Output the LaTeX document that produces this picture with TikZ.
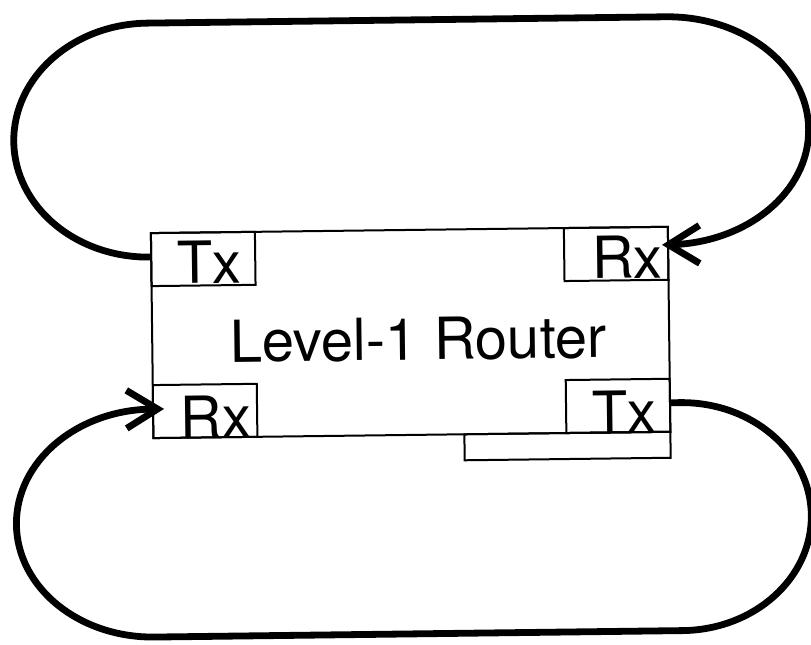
\documentclass[tikz,border=0pt]{standalone}
\usepackage{fontspec}
\setmainfont{TeX Gyre Heros}
\usetikzlibrary{arrows.meta}
\begin{document}
\begin{tikzpicture}[x=1pt,y=1pt,
  frame/.style={draw=black, line width=2pt, rectangle, inner sep=0pt},
  port/.style={frame, minimum width=104pt, minimum height=53pt},
  caption/.style={anchor=base, inner sep=0pt, font=\fontsize{58}{60}\selectfont},
  loopline/.style={draw=black, line width=6.8pt,
    -{Straight Barb[length=31pt,width=38pt]}}]
  \fill[white] (0,0) rectangle (811,-645);
  \useasboundingbox (0,0) rectangle (811,-645);
  \begin{scope}[rotate around={0.7:(405,-322)}, transform shape]
    % router body and the tab under its lower right corner
    \node[frame, minimum width=517pt, minimum height=205pt] (router) at (410.5,-332.5) {};
    \node[frame, minimum width=206pt, minimum height=26pt] (tab) at (566,-448) {};
    % ports
    \node[port] (txA) at (204,-256.5) {};
    \node[port] (rxB) at (617,-256.5) {};
    \node[port] (rxC) at (204,-408.5) {};
    \node[port] (txD) at (617,-408.5) {};
    % labels
    \node[caption] (title) at (418,-360) {Level-1 Router};
    \node[caption] (txAl) at (210,-281) {Tx};
    \node[caption] (rxBl) at (628,-281) {Rx};
    \node[caption] (rxCl) at (215,-435.5) {Rx};
    \node[caption] (txDl) at (623,-435.5) {Tx};
    % upper loop: Tx (left) back round to Rx (right)
    \draw[loopline] ([yshift=2.5pt]txA.west)
      arc[start angle=270, end angle=90, x radius=135, y radius=117]
      -- ++(518,0)
      arc[start angle=90, end angle=-90, x radius=142, y radius=114]
      -- ([xshift=-7pt,yshift=8.5pt]rxB.east);
    % lower loop: Tx (right) back round to Rx (left)
    \draw[loopline] ([yshift=2.5pt]txD.east) -- ++(9,0)
      arc[start angle=90, end angle=-90, x radius=130, y radius=114]
      -- ++(-528,0)
      arc[start angle=270, end angle=90, x radius=137, y radius=114]
      -- ([xshift=12pt,yshift=2.5pt]rxC.west);
  \end{scope}
\end{tikzpicture}
\end{document}
